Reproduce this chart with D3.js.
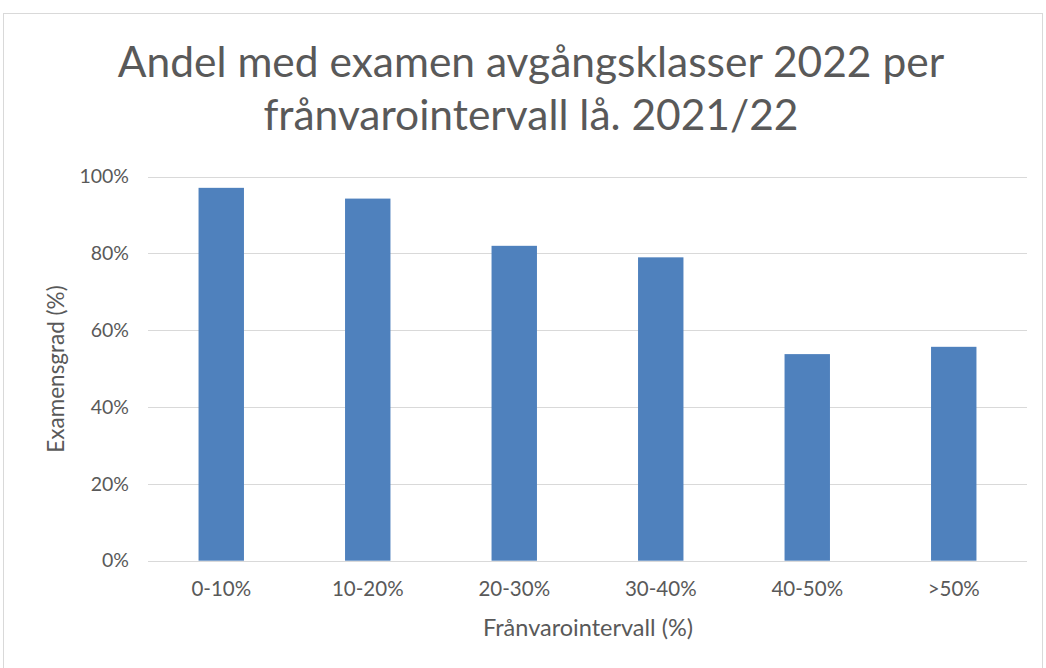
<!DOCTYPE html>
<html>
<head>
<meta charset="utf-8">
<script src="https://cdn.jsdelivr.net/npm/d3@7"></script>
<style>
  html, body { margin: 0; padding: 0; background: #fff; }
  svg { display: block; }
</style>
</head>
<body>
<svg id="chart" width="1046" height="668"></svg>
<script>
// data
const categories = ["0-10%", "10-20%", "20-30%", "30-40%", "40-50%", ">50%"];
const values = [97.1, 94.3, 82.0, 79.0, 53.8, 55.7];
const yTicks = [0, 20, 40, 60, 80, 100];
const titleLines = ["Andel med examen avgångsklasser 2022 per", "frånvarointervall lå. 2021/22"];

const svg = d3.select("#chart");
const font = "Lato, 'Open Sans', sans-serif";
const gray = "#595959";

// ram runt diagrammet
svg.append("rect")
  .attr("x", 3.5).attr("y", 13.5)
  .attr("width", 1039).attr("height", 660)
  .attr("fill", "#fff")
  .attr("stroke", "#d9d9d9");

const margin = { left: 148, right: 1027, top: 176.7, bottom: 560.7 };

const x = d3.scaleBand()
  .domain(categories)
  .range([margin.left, margin.right])
  .paddingInner(0.69)
  .paddingOuter(0.345);

const y = d3.scaleLinear()
  .domain([0, 100])
  .range([margin.bottom, margin.top]);

// rutnät
svg.append("g")
  .selectAll("line")
  .data(yTicks)
  .join("line")
  .attr("x1", margin.left)
  .attr("x2", margin.right)
  .attr("y1", d => Math.round(y(d)) + 0.5)
  .attr("y2", d => Math.round(y(d)) + 0.5)
  .attr("stroke", "#d9d9d9")
  .attr("stroke-width", 1);

// staplar
svg.append("g")
  .selectAll("rect")
  .data(values)
  .join("rect")
  .attr("x", (d, i) => x(categories[i]))
  .attr("y", d => y(d))
  .attr("width", x.bandwidth())
  .attr("height", d => y(0) - y(d))
  .attr("fill", "#4f81bd");

// y-axel
const yAxis = svg.append("g")
  .attr("transform", `translate(${margin.left - 19},0)`)
  .call(d3.axisLeft(y).tickValues(yTicks).tickFormat(d => d + "%").tickSize(0).tickPadding(0));
yAxis.select(".domain").remove();
yAxis.selectAll("text")
  .attr("font-family", font)
  .attr("font-size", 19.5)
  .attr("fill", gray);

// x-axel
const xAxis = svg.append("g")
  .attr("transform", `translate(0,${margin.bottom + 21})`)
  .call(d3.axisBottom(x).tickSize(0).tickPadding(0));
xAxis.select(".domain").remove();
xAxis.selectAll("text")
  .attr("font-family", font)
  .attr("font-size", 20.5)
  .attr("fill", gray);

// axeltitlar
svg.append("text")
  .text("Frånvarointervall (%)")
  .attr("x", 588)
  .attr("y", 636)
  .attr("text-anchor", "middle")
  .attr("font-family", font)
  .attr("font-size", 23.5)
  .attr("fill", gray);

svg.append("text")
  .text("Examensgrad (%)")
  .attr("transform", `translate(64,369) rotate(-90)`)
  .attr("text-anchor", "middle")
  .attr("font-family", font)
  .attr("font-size", 22.5)
  .attr("fill", gray);

// rubrik
svg.append("g")
  .selectAll("text")
  .data(titleLines)
  .join("text")
  .text(d => d)
  .attr("x", 531)
  .attr("y", (d, i) => 77 + i * 53)
  .attr("text-anchor", "middle")
  .attr("font-family", font)
  .attr("font-size", 42.5)
  .attr("fill", gray);
</script>
</body>
</html>
